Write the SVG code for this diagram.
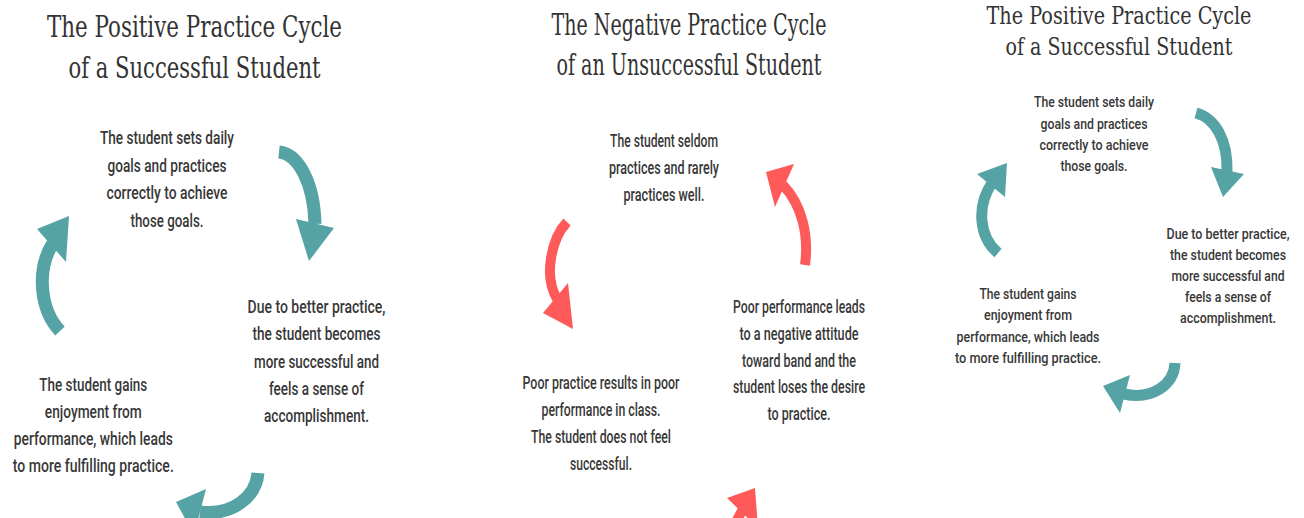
<svg xmlns="http://www.w3.org/2000/svg" width="1304" height="518" viewBox="0 0 1304 518">
<style>
.title{font-family:"DejaVu Serif","Liberation Serif",serif;fill:#333;text-anchor:middle}
.t1{font-size:29px}
.t2{font-size:23.5px}
.body{font-family:Roboto,"Liberation Sans",Arial,sans-serif;font-weight:500;fill:#383838;text-anchor:middle}
.b1{font-size:17.5px}
.b2{font-size:14.5px}
.teal{fill:none;stroke:#55A3A5;stroke-linecap:butt}
.tealh{fill:#55A3A5}
.red{fill:none;stroke:#FF5A5A;stroke-linecap:butt}
.redh{fill:#FF5A5A}
</style>
<rect width="1304" height="518" fill="#ffffff"/>

<g id="title-left">
<text class="title t1" x="194.5" y="37" textLength="295" lengthAdjust="spacingAndGlyphs">The Positive Practice Cycle</text>
<text class="title t1" x="194.5" y="78" textLength="252" lengthAdjust="spacingAndGlyphs">of a Successful Student</text>
</g>
<g id="title-middle">
<text class="title t1" x="689" y="35" textLength="275" lengthAdjust="spacingAndGlyphs">The Negative Practice Cycle</text>
<text class="title t1" x="689" y="75" textLength="265" lengthAdjust="spacingAndGlyphs">of an Unsuccessful Student</text>
</g>
<g id="title-right">
<text class="title t2" x="1119" y="24" textLength="265" lengthAdjust="spacingAndGlyphs">The Positive Practice Cycle</text>
<text class="title t2" x="1119" y="55" textLength="227" lengthAdjust="spacingAndGlyphs">of a Successful Student</text>
</g>

<g id="left-goals">
<text class="body b1" x="167" y="144" textLength="134" lengthAdjust="spacingAndGlyphs">The student sets daily</text>
<text class="body b1" x="167" y="171.5" textLength="119" lengthAdjust="spacingAndGlyphs">goals and practices</text>
<text class="body b1" x="167" y="199" textLength="121" lengthAdjust="spacingAndGlyphs">correctly to achieve</text>
<text class="body b1" x="167" y="226.5" textLength="73" lengthAdjust="spacingAndGlyphs">those goals.</text>
</g>
<g id="left-success">
<text class="body b1" x="316.5" y="313" textLength="138" lengthAdjust="spacingAndGlyphs">Due to better practice,</text>
<text class="body b1" x="316.5" y="340" textLength="128" lengthAdjust="spacingAndGlyphs">the student becomes</text>
<text class="body b1" x="316.5" y="367.5" textLength="125" lengthAdjust="spacingAndGlyphs">more successful and</text>
<text class="body b1" x="316.5" y="395" textLength="95" lengthAdjust="spacingAndGlyphs">feels a sense of</text>
<text class="body b1" x="316.5" y="422.3" textLength="105" lengthAdjust="spacingAndGlyphs">accomplishment.</text>
</g>
<g id="left-enjoy">
<text class="body b1" x="93.3" y="390.7" textLength="108" lengthAdjust="spacingAndGlyphs">The student gains</text>
<text class="body b1" x="93.3" y="417.7" textLength="97" lengthAdjust="spacingAndGlyphs">enjoyment from</text>
<text class="body b1" x="93.3" y="445" textLength="159" lengthAdjust="spacingAndGlyphs">performance, which leads</text>
<text class="body b1" x="93.3" y="472.3" textLength="161" lengthAdjust="spacingAndGlyphs">to more fulfilling practice.</text>
</g>

<g id="mid-seldom">
<text class="body b1" x="664" y="146.7" textLength="108" lengthAdjust="spacingAndGlyphs">The student seldom</text>
<text class="body b1" x="664" y="174" textLength="110" lengthAdjust="spacingAndGlyphs">practices and rarely</text>
<text class="body b1" x="664" y="201" textLength="81" lengthAdjust="spacingAndGlyphs">practices well.</text>
</g>
<g id="mid-poor-practice">
<text class="body b1" x="601" y="389.3" textLength="157" lengthAdjust="spacingAndGlyphs">Poor practice results in poor</text>
<text class="body b1" x="601" y="416.3" textLength="119" lengthAdjust="spacingAndGlyphs">performance in class.</text>
<text class="body b1" x="601" y="443.3" textLength="140" lengthAdjust="spacingAndGlyphs">The student does not feel</text>
<text class="body b1" x="601" y="470" textLength="62" lengthAdjust="spacingAndGlyphs">successful.</text>
</g>
<g id="mid-poor-performance">
<text class="body b1" x="799" y="312.7" textLength="132" lengthAdjust="spacingAndGlyphs">Poor performance leads</text>
<text class="body b1" x="799" y="340" textLength="119" lengthAdjust="spacingAndGlyphs">to a negative attitude</text>
<text class="body b1" x="799" y="366.7" textLength="114" lengthAdjust="spacingAndGlyphs">toward band and the</text>
<text class="body b1" x="799" y="393.3" textLength="132" lengthAdjust="spacingAndGlyphs">student loses the desire</text>
<text class="body b1" x="799" y="420" textLength="63" lengthAdjust="spacingAndGlyphs">to practice.</text>
</g>

<g id="right-goals">
<text class="body b2" x="1094" y="107.3" textLength="120" lengthAdjust="spacingAndGlyphs">The student sets daily</text>
<text class="body b2" x="1094" y="128.5" textLength="107" lengthAdjust="spacingAndGlyphs">goals and practices</text>
<text class="body b2" x="1094" y="150" textLength="109" lengthAdjust="spacingAndGlyphs">correctly to achieve</text>
<text class="body b2" x="1094" y="171" textLength="67" lengthAdjust="spacingAndGlyphs">those goals.</text>
</g>
<g id="right-success">
<text class="body b2" x="1228" y="239.3" textLength="123" lengthAdjust="spacingAndGlyphs">Due to better practice,</text>
<text class="body b2" x="1228" y="260.3" textLength="116" lengthAdjust="spacingAndGlyphs">the student becomes</text>
<text class="body b2" x="1228" y="281.3" textLength="113" lengthAdjust="spacingAndGlyphs">more successful and</text>
<text class="body b2" x="1228" y="302.3" textLength="86" lengthAdjust="spacingAndGlyphs">feels a sense of</text>
<text class="body b2" x="1228" y="322.7" textLength="96" lengthAdjust="spacingAndGlyphs">accomplishment.</text>
</g>
<g id="right-enjoy">
<text class="body b2" x="1028" y="299" textLength="97" lengthAdjust="spacingAndGlyphs">The student gains</text>
<text class="body b2" x="1028" y="320" textLength="88" lengthAdjust="spacingAndGlyphs">enjoyment from</text>
<text class="body b2" x="1028" y="341.5" textLength="143" lengthAdjust="spacingAndGlyphs">performance, which leads</text>
<text class="body b2" x="1028" y="362.7" textLength="146" lengthAdjust="spacingAndGlyphs">to more fulfilling practice.</text>
</g>

<g id="connectors">
<path class="teal" stroke-width="13" d="M279,152 C298,154 314,182 315,224"/>
<polygon class="tealh" points="296,219 334,228 309,261"/>
<path class="teal" stroke-width="13" d="M258,473 C256,497 232,516 200,512"/>
<polygon class="tealh" points="206,489 176,502 194,535"/>
<path class="teal" stroke-width="13" d="M60,331 C40,310 36,270 53,243"/>
<polygon class="tealh" points="69,216 37,229 66,262"/>

<path class="red" stroke-width="10" d="M567,222 C552,238 543,275 557,299"/>
<polygon class="redh" points="543,313 568,283 573,329"/>
<path class="red" stroke-width="10" d="M805,265 C809,235 802,205 783,185"/>
<polygon class="redh" points="766,172 794,164 775,207"/>
<path class="red" stroke-width="10" d="M743,509 L736,522"/>
<polygon class="redh" points="755,488 727,498 758,528"/>

<path class="teal" stroke-width="11" d="M1196,113 C1215,118 1228,140 1227,172"/>
<polygon class="tealh" points="1211,167 1244,174 1223,197"/>
<path class="teal" stroke-width="11" d="M1175,363 C1174,385 1152,400 1124,394"/>
<polygon class="tealh" points="1130,375 1103,386 1120,413"/>
<path class="teal" stroke-width="11" d="M998,253 C978,236 977,205 992,183"/>
<polygon class="tealh" points="1007,163 977,174 1005,197"/>
</g>
</svg>
